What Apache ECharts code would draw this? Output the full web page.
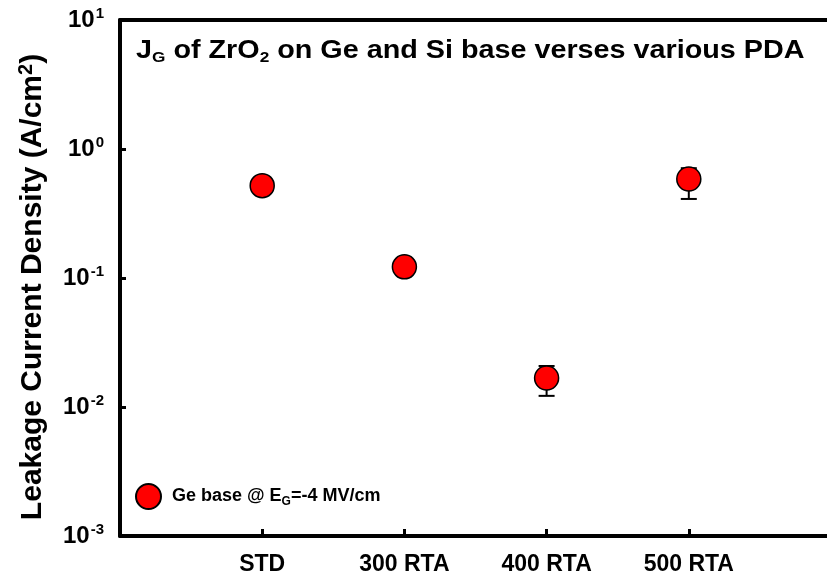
<!DOCTYPE html>
<html>
<head>
<meta charset="utf-8">
<script src="https://cdn.jsdelivr.net/npm/echarts@6/dist/echarts.min.js"></script>
<style>html,body{margin:0;padding:0;background:#fff}#c{width:827px;height:577px}</style>
</head>
<body>
<div id="c"></div>
<script>
var categories = ['STD', '300 RTA', '400 RTA', '500 RTA'];
var jgValues = [0.52, 0.122, 0.0168, 0.585];
var errLow = [null, null, 0.0122, 0.41];
var errHigh = [null, null, 0.0208, 0.71];

var FONT = '"Liberation Sans", Arial, sans-serif';
var chart = echarts.init(document.getElementById('c'));

var points = jgValues.map(function (v, i) { return [i + 1, v]; });
var errData = [];
for (var i = 0; i < categories.length; i++) {
  if (errLow[i] != null) errData.push([i + 1, errLow[i], errHigh[i]]);
}

chart.setOption({
  animation: false,
  backgroundColor: '#fff',
  graphic: [{
    type: 'text',
    left: 136, top: 38,
    scaleX: 1.15,
    style: {
      text: '{n|J}{sub|G}{n| of ZrO}{sub|2}{n| on Ge and Si base verses various PDA}',
      rich: {
        n: { fontFamily: FONT, fontWeight: 'bold', fontSize: 25, fill: '#000', lineHeight: 30 },
        sub: { fontFamily: FONT, fontWeight: 'bold', fontSize: 15, fill: '#000', padding: [12, 0, 0, 0], lineHeight: 30 }
      }
    }
  }, {
    type: 'text',
    x: 33, y: 287,
    rotation: Math.PI / 2,
    style: {
      text: '{n|Leakage Current Density (A/cm}{sup|2}{n|)}',
      align: 'center', verticalAlign: 'middle',
      rich: {
        n: { fontFamily: FONT, fontWeight: 'bold', fontSize: 30, fill: '#000' },
        sup: { fontFamily: FONT, fontWeight: 'bold', fontSize: 20, fill: '#000', padding: [0, 0, 14, 0] }
      }
    }
  }],
  legend: {
    left: 130, top: 478,
    itemWidth: 25, itemHeight: 25,
    data: [{ name: 'Ge base', icon: 'circle' }],
    formatter: function () { return '{n|Ge base @ E}{sub|G}{n|=-4 MV/cm}'; },
    textStyle: {
      padding: [0, 0, 0, 6],
      rich: {
        n: { fontFamily: FONT, fontWeight: 'bold', fontSize: 18, color: '#000' },
        sub: { fontFamily: FONT, fontWeight: 'bold', fontSize: 12, color: '#000', padding: [10, 0, 0, 0] }
      }
    }
  },
  grid: { left: 120, top: 20, width: 711, height: 516, containLabel: false, outerBoundsMode: 'none' },
  xAxis: [{
    type: 'value', min: 0, max: 5, interval: 1,
    axisLine: { lineStyle: { color: '#000', width: 4 } },
    axisTick: { inside: true, length: 7, lineStyle: { color: '#000', width: 3 } },
    splitLine: { show: false },
    axisLabel: {
      margin: 17,
      fontFamily: FONT, fontWeight: 'bold', fontSize: 23, color: '#000',
      formatter: function (v) { return (v >= 1 && v <= categories.length) ? categories[v - 1] : ''; }
    }
  }, {
    type: 'value', position: 'top', min: 0, max: 5,
    axisLine: { show: true, onZero: false, lineStyle: { color: '#000', width: 4 } },
    axisTick: { show: false }, axisLabel: { show: false }, splitLine: { show: false }
  }],
  yAxis: {
    type: 'log', logBase: 10, min: 0.001, max: 10,
    axisLine: { show: true, lineStyle: { color: '#000', width: 4 } },
    axisTick: { inside: true, length: 6, lineStyle: { color: '#000', width: 3 } },
    splitLine: { show: false },
    axisLabel: {
      margin: 16,
      formatter: function (v) {
        var e = Math.round(Math.log10(v));
        return '{b|10}{s|' + e + '}';
      },
      rich: {
        b: { fontFamily: FONT, fontWeight: 'bold', fontSize: 24, color: '#000' },
        s: { fontFamily: FONT, fontWeight: 'bold', fontSize: 15, color: '#000', padding: [0, 0, 12, 1] }
      }
    }
  },
  series: [{
    type: 'custom',
    name: 'err',
    data: errData,
    z: 1,
    renderItem: function (params, api) {
      var x = api.value(0);
      var lo = api.coord([x, api.value(1)]);
      var hi = api.coord([x, api.value(2)]);
      var w = 8;
      var st = { stroke: '#000', lineWidth: 2 };
      return { type: 'group', children: [
        { type: 'line', shape: { x1: lo[0], y1: lo[1], x2: hi[0], y2: hi[1] }, style: st },
        { type: 'line', shape: { x1: lo[0] - w, y1: lo[1], x2: lo[0] + w, y2: lo[1] }, style: st },
        { type: 'line', shape: { x1: hi[0] - w, y1: hi[1], x2: hi[0] + w, y2: hi[1] }, style: st }
      ]};
    }
  }, {
    type: 'scatter',
    name: 'Ge base',
    data: points,
    z: 3,
    symbol: 'circle',
    symbolSize: 24,
    itemStyle: { color: '#ff0000', opacity: 1, borderColor: '#000', borderWidth: 1.5 }
  }]
});
</script>
</body>
</html>
